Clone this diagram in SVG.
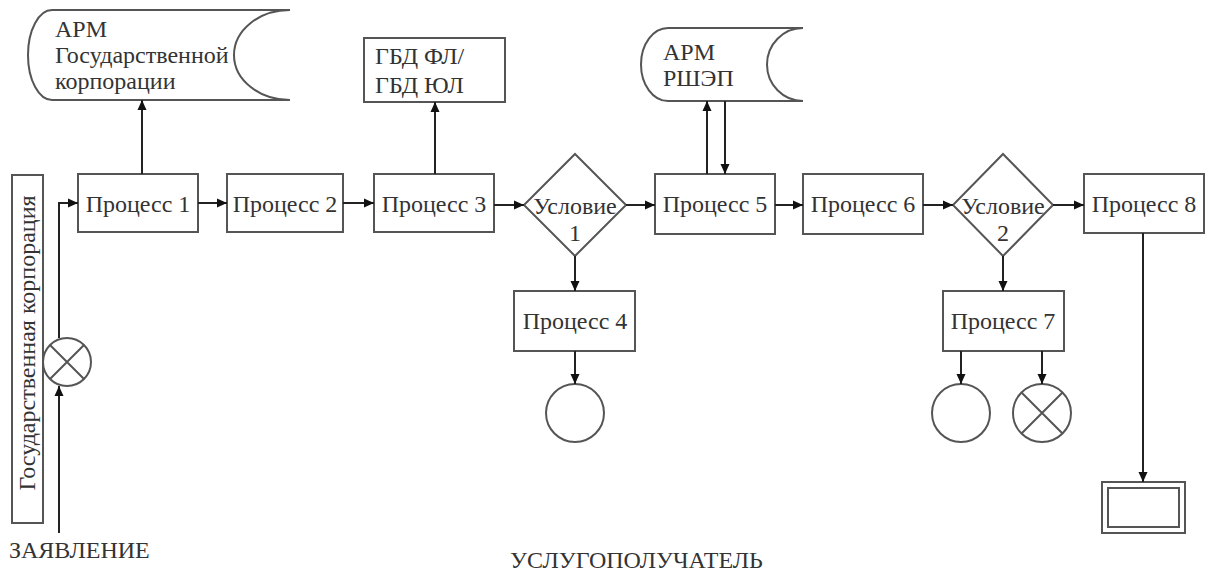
<svg xmlns="http://www.w3.org/2000/svg" width="1208" height="571" viewBox="0 0 1208 571" font-family="'Liberation Serif', 'Times New Roman', 'DejaVu Serif', serif">
<defs>
<marker id="ah" viewBox="0 0 10 10" refX="10" refY="5" markerWidth="10" markerHeight="10" markerUnits="userSpaceOnUse" orient="auto">
<path d="M0,0.5 L10,5 L0,9.5 Z" fill="#111"/>
</marker>
<style>
.s{fill:#fff;stroke:#555;stroke-width:2}
.a{fill:none;stroke:#222;stroke-width:2;marker-end:url(#ah)}
.t{font-size:24px;fill:#333}
.m{text-anchor:middle}
</style>
</defs>
<rect width="1208" height="571" fill="#fff"/>

<g id="lane">
<rect class="s" x="12" y="175" width="31" height="348"/>
<text class="t m" transform="translate(35,343) rotate(-90)">Государственная корпорация</text>
</g>

<g id="arm-gk">
<path class="s" d="M290 10 L52 10 A24 45 0 0 0 52 100 L290 100 A56 45 0 0 1 290 10 Z"/>
<text class="t" x="55" y="37">АРМ</text>
<text class="t" x="55" y="63">Государственной</text>
<text class="t" x="55" y="89">корпорации</text>
</g>

<g id="gbd">
<rect class="s" x="364" y="38" width="141" height="64"/>
<text class="t" x="375" y="64">ГБД ФЛ/</text>
<text class="t" x="375" y="93">ГБД ЮЛ</text>
</g>

<g id="arm-rshep">
<path class="s" d="M803 28 L668 28 A27 36.5 0 0 0 668 101 L803 101 A36 36.5 0 0 1 803 28 Z"/>
<text class="t" x="663" y="60">АРМ</text>
<text class="t" x="663" y="86">РШЭП</text>
</g>

<g id="p1"><rect class="s" x="78" y="174" width="120" height="58"/><text class="t m" x="138" y="212">Процесс 1</text></g>
<g id="p2"><rect class="s" x="227" y="174" width="116" height="58"/><text class="t m" x="285" y="212">Процесс 2</text></g>
<g id="p3"><rect class="s" x="374" y="174" width="120" height="58"/><text class="t m" x="434" y="212">Процесс 3</text></g>
<g id="c1"><path class="s" d="M575 154 L626 205 L575 256 L524 205 Z"/><text class="t m" x="575" y="214">Условие</text><text class="t m" x="575" y="241">1</text></g>
<g id="p5"><rect class="s" x="655" y="174" width="120" height="60"/><text class="t m" x="715" y="212">Процесс 5</text></g>
<g id="p6"><rect class="s" x="803" y="174" width="120" height="60"/><text class="t m" x="863" y="212">Процесс 6</text></g>
<g id="c2"><path class="s" d="M1003 154 L1053 205 L1003 256 L953 205 Z"/><text class="t m" x="1003" y="214">Условие</text><text class="t m" x="1003" y="241">2</text></g>
<g id="p8"><rect class="s" x="1084" y="174" width="120" height="59"/><text class="t m" x="1144" y="212">Процесс 8</text></g>
<g id="p4"><rect class="s" x="514" y="291" width="121" height="60"/><text class="t m" x="575" y="329">Процесс 4</text></g>
<g id="p7"><rect class="s" x="943" y="291" width="121" height="60"/><text class="t m" x="1003" y="329">Процесс 7</text></g>

<g id="start-x"><circle class="s" cx="67" cy="362" r="24"/><path class="s" d="M50 345 L84 379 M84 345 L50 379"/></g>
<g id="end1"><circle class="s" cx="575" cy="413" r="29"/></g>
<g id="end2"><circle class="s" cx="961" cy="413" r="29"/></g>
<g id="end3"><circle class="s" cx="1042" cy="413" r="29"/><path class="s" d="M1021.5 392.5 L1062.5 433.5 M1062.5 392.5 L1021.5 433.5"/></g>
<g id="doc"><rect class="s" x="1102" y="482" width="83" height="51"/><rect class="s" x="1108" y="488" width="71" height="39"/></g>

<g id="labels">
<text class="t" x="9" y="558">ЗАЯВЛЕНИЕ</text>
<text class="t" x="510" y="568">УСЛУГОПОЛУЧАТЕЛЬ</text>
</g>

<g id="connectors">
<path class="a" d="M59 533 L59 386"/>
<path class="a" d="M59 338 L59 203 L78 203"/>
<path class="a" d="M142 174 L142 100"/>
<path class="a" d="M198 203 L227 203"/>
<path class="a" d="M343 203 L374 203"/>
<path class="a" d="M435 174 L435 102"/>
<path class="a" d="M494 205 L524 205"/>
<path class="a" d="M626 205 L655 205"/>
<path class="a" d="M575 256 L575 291"/>
<path class="a" d="M575 351 L575 384"/>
<path class="a" d="M707 174 L707 101"/>
<path class="a" d="M725 101 L725 174"/>
<path class="a" d="M775 205 L803 205"/>
<path class="a" d="M923 205 L953 205"/>
<path class="a" d="M1053 205 L1084 205"/>
<path class="a" d="M1003 256 L1003 291"/>
<path class="a" d="M961 351 L961 384"/>
<path class="a" d="M1042 351 L1042 384"/>
<path class="a" d="M1143 233 L1143 482"/>
</g>
</svg>
